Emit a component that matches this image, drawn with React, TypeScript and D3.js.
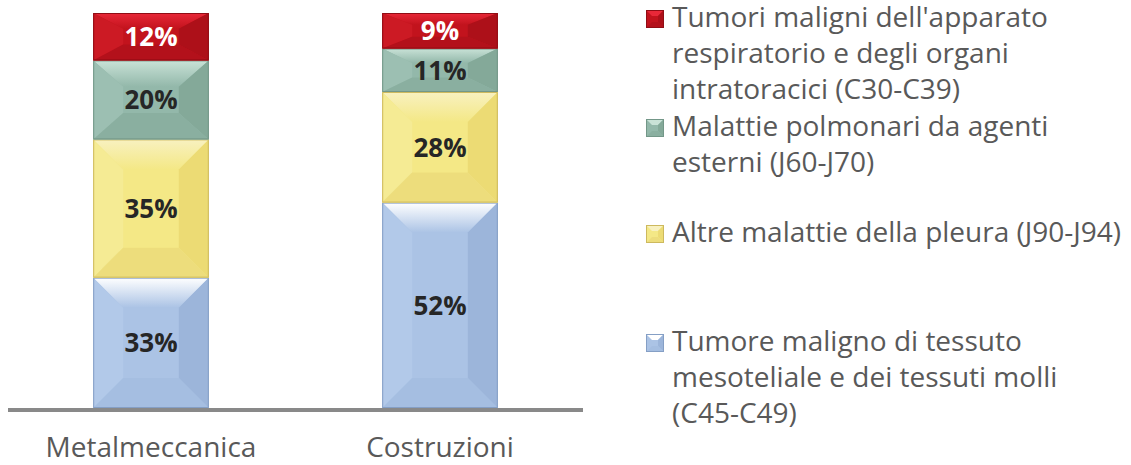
import React from "react";
import * as d3 from "d3";

const categories = ["Metalmeccanica", "Costruzioni"];
const seriesKeys = ["tessuto", "pleura", "polmonari", "respiratorio"];
const seriesNames = [
  ["Tumore maligno di tessuto", "mesoteliale e dei tessuti molli", "(C45-C49)"],
  ["Altre malattie della pleura (J90-J94)"],
  ["Malattie polmonari da agenti", "esterni (J60-J70)"],
  ["Tumori maligni dell'apparato", "respiratorio e degli organi", "intratoracici (C30-C39)"],
];
const tessuto = [33, 52];
const pleura = [35, 28];
const polmonari = [20, 11];
const respiratorio = [12, 9];

const palette = [
  { base: "#abc3e5", top: "#ffffff", left: "#b2c9e9", right: "#9cb5da", bottom: "#a5bee1", border: "#859fc5", text: "#262626" },
  { base: "#f4e886", top: "#f8f1c0", left: "#f5eb94", right: "#ecdb74", bottom: "#eddd7c", border: "#cdb95e", text: "#262626" },
  { base: "#93b8aa", top: "#c9e2d7", left: "#9cbfb2", right: "#84a999", bottom: "#8aafa0", border: "#739788", text: "#262626" },
  { base: "#c2131d", top: "#e82838", left: "#cc1a24", right: "#ad1019", bottom: "#b3111b", border: "#900d15", text: "#ffffff" },
];

// legend layout: first baseline per entry
const legendBaselines = [351, 242, 136, 27];

const FONT = "'Open Sans', 'Noto Sans', sans-serif";

export default function App() {
  const W = 1131, H = 465;
  const table = categories.map((c, i) => ({
    cat: c,
    tessuto: tessuto[i],
    pleura: pleura[i],
    polmonari: polmonari[i],
    respiratorio: respiratorio[i],
  }));
  const stacked = d3.stack<any>().keys(seriesKeys)(table);
  const x = d3.scaleBand().domain(categories).range([6.5, 584.5]).paddingInner(0.6).paddingOuter(0.3);
  const y = d3.scaleLinear().domain([0, 100]).range([408, 13]);

  return (
    <svg width={W} height={H} style={{ position: "absolute", left: 0, top: 0 }} fontFamily={FONT}>
      <defs>
        {palette.map((p, i) => (
          <linearGradient key={i} id={`top${i}`} x1="0" y1="0" x2="0" y2="1">
            <stop offset="0" stopColor={p.top} />
            <stop offset="1" stopColor={p.base} />
          </linearGradient>
        ))}
      </defs>
      {stacked.map((s, si) => {
        const p = palette[si];
        return (
          <g key={s.key}>
            {s.map((d, di) => {
              const x0 = x(categories[di])!;
              const w = x.bandwidth();
              const x1 = x0 + w;
              const y0 = y(d[1]);
              const y1 = y(d[0]);
              const h = y1 - y0;
              const dy = Math.min(30, h / 3);
              const dx = Math.min(30, w / 3);
              const pts = (a: number[][]) => a.map((q) => q.join(",")).join(" ");
              const val = d[1] - d[0];
              return (
                <g key={di}>
                  <rect x={x0} y={y0} width={w} height={h} fill={p.base} />
                  <polygon points={pts([[x0, y0], [x1, y0], [x1 - dx, y0 + dy], [x0 + dx, y0 + dy]])} fill={`url(#top${si})`} />
                  <polygon points={pts([[x0, y0], [x0 + dx, y0 + dy], [x0 + dx, y1 - dy], [x0, y1]])} fill={p.left} />
                  <polygon points={pts([[x1, y0], [x1 - dx, y0 + dy], [x1 - dx, y1 - dy], [x1, y1]])} fill={p.right} />
                  <polygon points={pts([[x0, y1], [x1, y1], [x1 - dx, y1 - dy], [x0 + dx, y1 - dy]])} fill={p.bottom} />
                  <rect x={x0 + 0.5} y={y0 + 0.5} width={w - 1} height={h - 1} fill="none" stroke={p.border} strokeWidth={1} />
                  <text
                    x={x0 + w / 2}
                    y={(y0 + y1) / 2}
                    dy="0.36em"
                    textAnchor="middle"
                    fontSize={26}
                    fontWeight={700}
                    fill={p.text}
                  >
                    {`${val}%`}
                  </text>
                </g>
              );
            })}
          </g>
        );
      })}
      <rect x={8} y={408} width={575} height={4} fill="#898989" />
      {categories.map((c) => (
        <text key={c} x={x(c)! + x.bandwidth() / 2} y={457} textAnchor="middle" fontSize={28} fill="#595959">
          {c}
        </text>
      ))}
      {seriesNames.map((lines, si) => {
        const p = palette[si];
        const b = legendBaselines[si];
        const my = b - 17;
        return (
          <g key={si}>
            <rect x={646} y={my} width={18} height={18} fill={p.base} />
            <polygon points={`646,${my} 664,${my} 658,${my + 6} 652,${my + 6}`} fill={p.top} />
            <polygon points={`664,${my} 664,${my + 18} 658,${my + 12} 658,${my + 6}`} fill={p.right} />
            <polygon points={`646,${my + 18} 664,${my + 18} 658,${my + 12} 652,${my + 12}`} fill={p.bottom} />
            <rect x={646.5} y={my + 0.5} width={17} height={17} fill="none" stroke={p.border} />
            {lines.map((l, li) => (
              <text key={li} x={672} y={b + li * 36} fontSize={28} fill="#595959">
                {l}
              </text>
            ))}
          </g>
        );
      })}
    </svg>
  );
}
